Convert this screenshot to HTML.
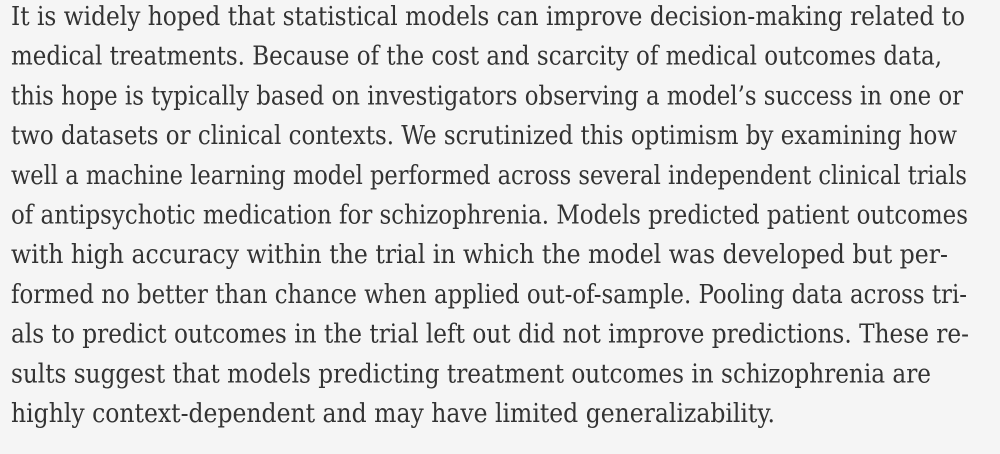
<!DOCTYPE html>
<html><head><meta charset="utf-8"><style>
html,body{margin:0;padding:0;background:#f5f5f5;}
svg{display:block}
text{font-family:"DejaVu Serif","Liberation Serif",serif;font-size:26px;fill:#333;}
</style></head><body>
<svg width="1000" height="454">
<rect width="1000" height="454" fill="#f5f5f5"/>
<text x="11" y="25" textLength="954" lengthAdjust="spacingAndGlyphs">It is widely hoped that statistical models can improve decision-making related to</text>
<text x="11" y="64.7" textLength="931" lengthAdjust="spacingAndGlyphs">medical treatments. Because of the cost and scarcity of medical outcomes data,</text>
<text x="11" y="104.4" textLength="952" lengthAdjust="spacingAndGlyphs">this hope is typically based on investigators observing a model’s success in one or</text>
<text x="11" y="144.1" textLength="946" lengthAdjust="spacingAndGlyphs">two datasets or clinical contexts. We scrutinized this optimism by examining how</text>
<text x="11" y="183.8" textLength="956" lengthAdjust="spacingAndGlyphs">well a machine learning model performed across several independent clinical trials</text>
<text x="11" y="223.5" textLength="957" lengthAdjust="spacingAndGlyphs">of antipsychotic medication for schizophrenia. Models predicted patient outcomes</text>
<text x="11" y="263.2" textLength="937" lengthAdjust="spacingAndGlyphs">with high accuracy within the trial in which the model was developed but per-</text>
<text x="11" y="302.9" textLength="956" lengthAdjust="spacingAndGlyphs">formed no better than chance when applied out-of-sample. Pooling data across tri-</text>
<text x="11" y="342.6" textLength="958" lengthAdjust="spacingAndGlyphs">als to predict outcomes in the trial left out did not improve predictions. These re-</text>
<text x="11" y="382.3" textLength="920" lengthAdjust="spacingAndGlyphs">sults suggest that models predicting treatment outcomes in schizophrenia are</text>
<text x="11" y="422" textLength="764" lengthAdjust="spacingAndGlyphs">highly context-dependent and may have limited generalizability.</text>
</svg>
</body></html>
